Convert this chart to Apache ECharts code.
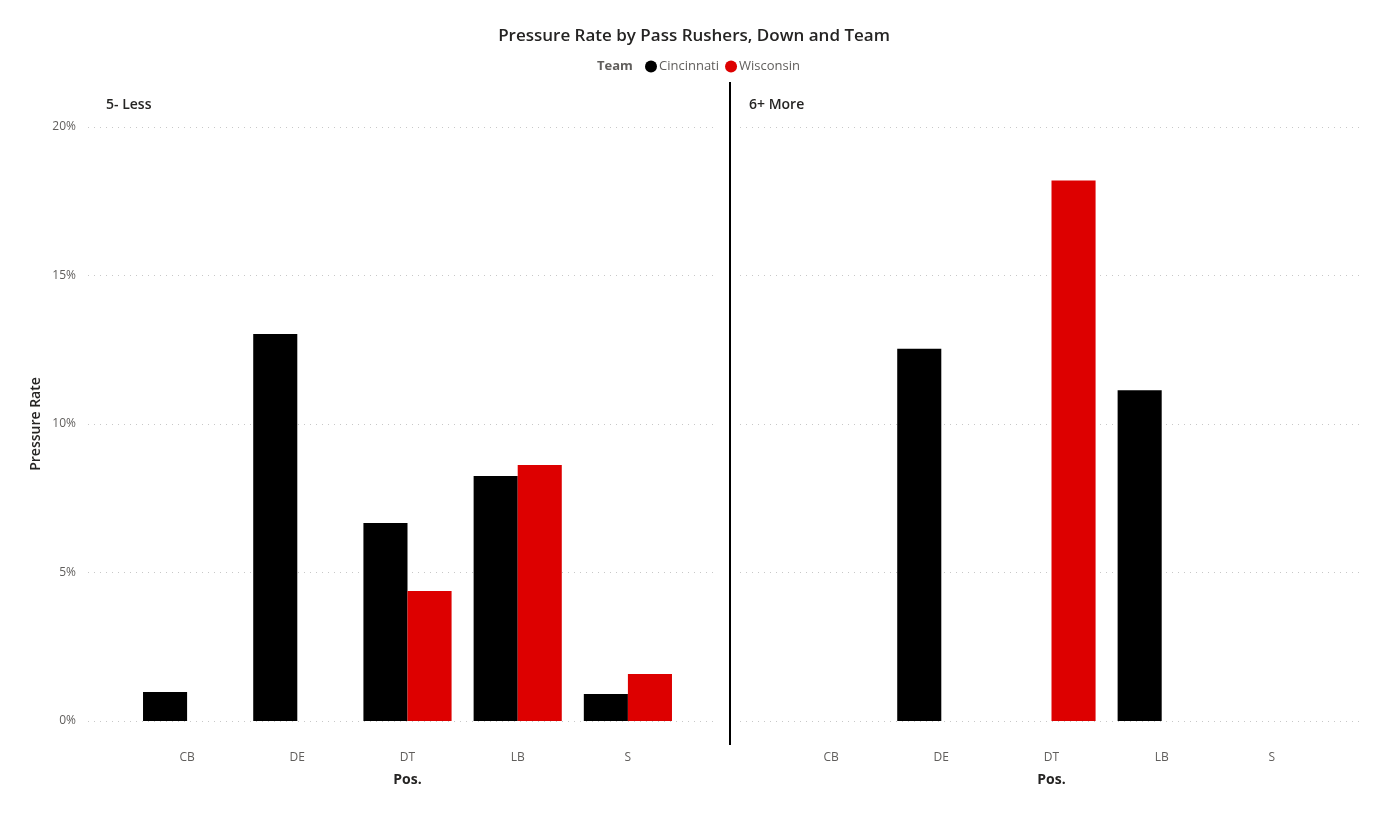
<!DOCTYPE html>
<html>
<head>
<meta charset="utf-8">
<script src="https://cdn.jsdelivr.net/npm/echarts@6/dist/echarts.min.js"></script>
<style>html,body{margin:0;padding:0;background:#fff}#c{width:1388px;height:815px}</style>
</head>
<body>
<div id="c"></div>
<script>
const categories = ['CB', 'DE', 'DT', 'LB', 'S'];
const panels = ['5- Less', '6+ More'];
const lessCincinnati = [0.98, 13.03, 6.67, 8.25, 0.91];
const lessWisconsin = [null, null, 4.38, 8.62, 1.58];
const moreCincinnati = [null, 12.53, null, 11.14, null];
const moreWisconsin = [null, null, 18.2, null, null];
const yTicks = { min: 0, max: 20, interval: 5 };

const FONT = 'Open Sans';
const chart = echarts.init(document.getElementById('c'));
const gTop = 127, gHeight = 594;
const split = { show: true, lineStyle: { color: '#c8c8c8', type: [1, 5], width: 1 } };

function hiddenX(i) { return { type: 'category', gridIndex: i, data: categories, show: false }; }
function barX(i) {
  return {
    type: 'category', gridIndex: i, data: categories,
    axisLine: { show: false }, axisTick: { show: false },
    axisLabel: { color: '#605e5c', fontSize: 12, margin: 31, fontFamily: FONT },
    name: 'Pos.', nameLocation: 'middle', nameGap: 52,
    nameTextStyle: { color: '#252423', fontSize: 14, fontWeight: 'bold', fontFamily: FONT }
  };
}
function yAx(i, opts) {
  return Object.assign({
    type: 'value', gridIndex: i, min: yTicks.min, max: yTicks.max, interval: yTicks.interval,
    axisLine: { show: false }, axisTick: { show: false }
  }, opts);
}

chart.setOption({
  backgroundColor: '#fff',
  animation: false,
  title: {
    text: 'Pressure Rate by Pass Rushers, Down and Team',
    left: 'center', top: 23,
    textStyle: { fontFamily: FONT, fontSize: 17, fontWeight: 600, color: '#252423' }
  },
  legend: {
    left: 640, top: 55,
    itemWidth: 12, itemHeight: 12, itemGap: 6,
    icon: 'circle',
    data: ['Cincinnati', 'Wisconsin'],
    textStyle: { fontFamily: FONT, fontSize: 13, color: '#605e5c', padding: [0, 0, 0, -3] }
  },
  grid: [
    { left: 88, top: gTop, width: 630, height: gHeight },
    { left: 740, top: gTop, width: 620, height: gHeight },
    { left: 132, top: gTop, width: 551, height: gHeight },
    { left: 776, top: gTop, width: 551, height: gHeight }
  ],
  xAxis: [hiddenX(0), hiddenX(1), barX(2), barX(3)],
  yAxis: [
    yAx(0, {
      splitLine: split,
      axisLabel: { formatter: '{value}%', color: '#605e5c', fontSize: 12, margin: 12, fontFamily: FONT },
      name: 'Pressure Rate', nameLocation: 'middle', nameGap: 45,
      nameTextStyle: { color: '#252423', fontSize: 14, fontWeight: 600, fontFamily: FONT }
    }),
    yAx(1, { splitLine: split, axisLabel: { show: false } }),
    yAx(2, { show: false, splitLine: { show: false } }),
    yAx(3, { show: false, splitLine: { show: false } })
  ],
  series: [
    { name: 'Cincinnati', type: 'bar', xAxisIndex: 2, yAxisIndex: 2, data: lessCincinnati, barGap: '0%', barCategoryGap: '20%', itemStyle: { color: '#000000' } },
    { name: 'Wisconsin', type: 'bar', xAxisIndex: 2, yAxisIndex: 2, data: lessWisconsin, barGap: '0%', barCategoryGap: '20%', itemStyle: { color: '#dd0000' } },
    { name: 'Cincinnati', type: 'bar', xAxisIndex: 3, yAxisIndex: 3, data: moreCincinnati, barGap: '0%', barCategoryGap: '20%', itemStyle: { color: '#000000' } },
    { name: 'Wisconsin', type: 'bar', xAxisIndex: 3, yAxisIndex: 3, data: moreWisconsin, barGap: '0%', barCategoryGap: '20%', itemStyle: { color: '#dd0000' } }
  ],
  graphic: [
    { type: 'text', left: 597, top: 60, style: { text: 'Team', font: 'bold 13px "Open Sans"', fill: '#605e5c' } },
    { type: 'text', left: 106, top: 98, style: { text: panels[0], font: '600 14px "Open Sans"', fill: '#252423' } },
    { type: 'text', left: 749, top: 98, style: { text: panels[1], font: '600 14px "Open Sans"', fill: '#252423' } },
    { type: 'line', shape: { x1: 730, y1: 82, x2: 730, y2: 745 }, style: { stroke: '#000', lineWidth: 2 } }
  ]
});
</script>
</body>
</html>
